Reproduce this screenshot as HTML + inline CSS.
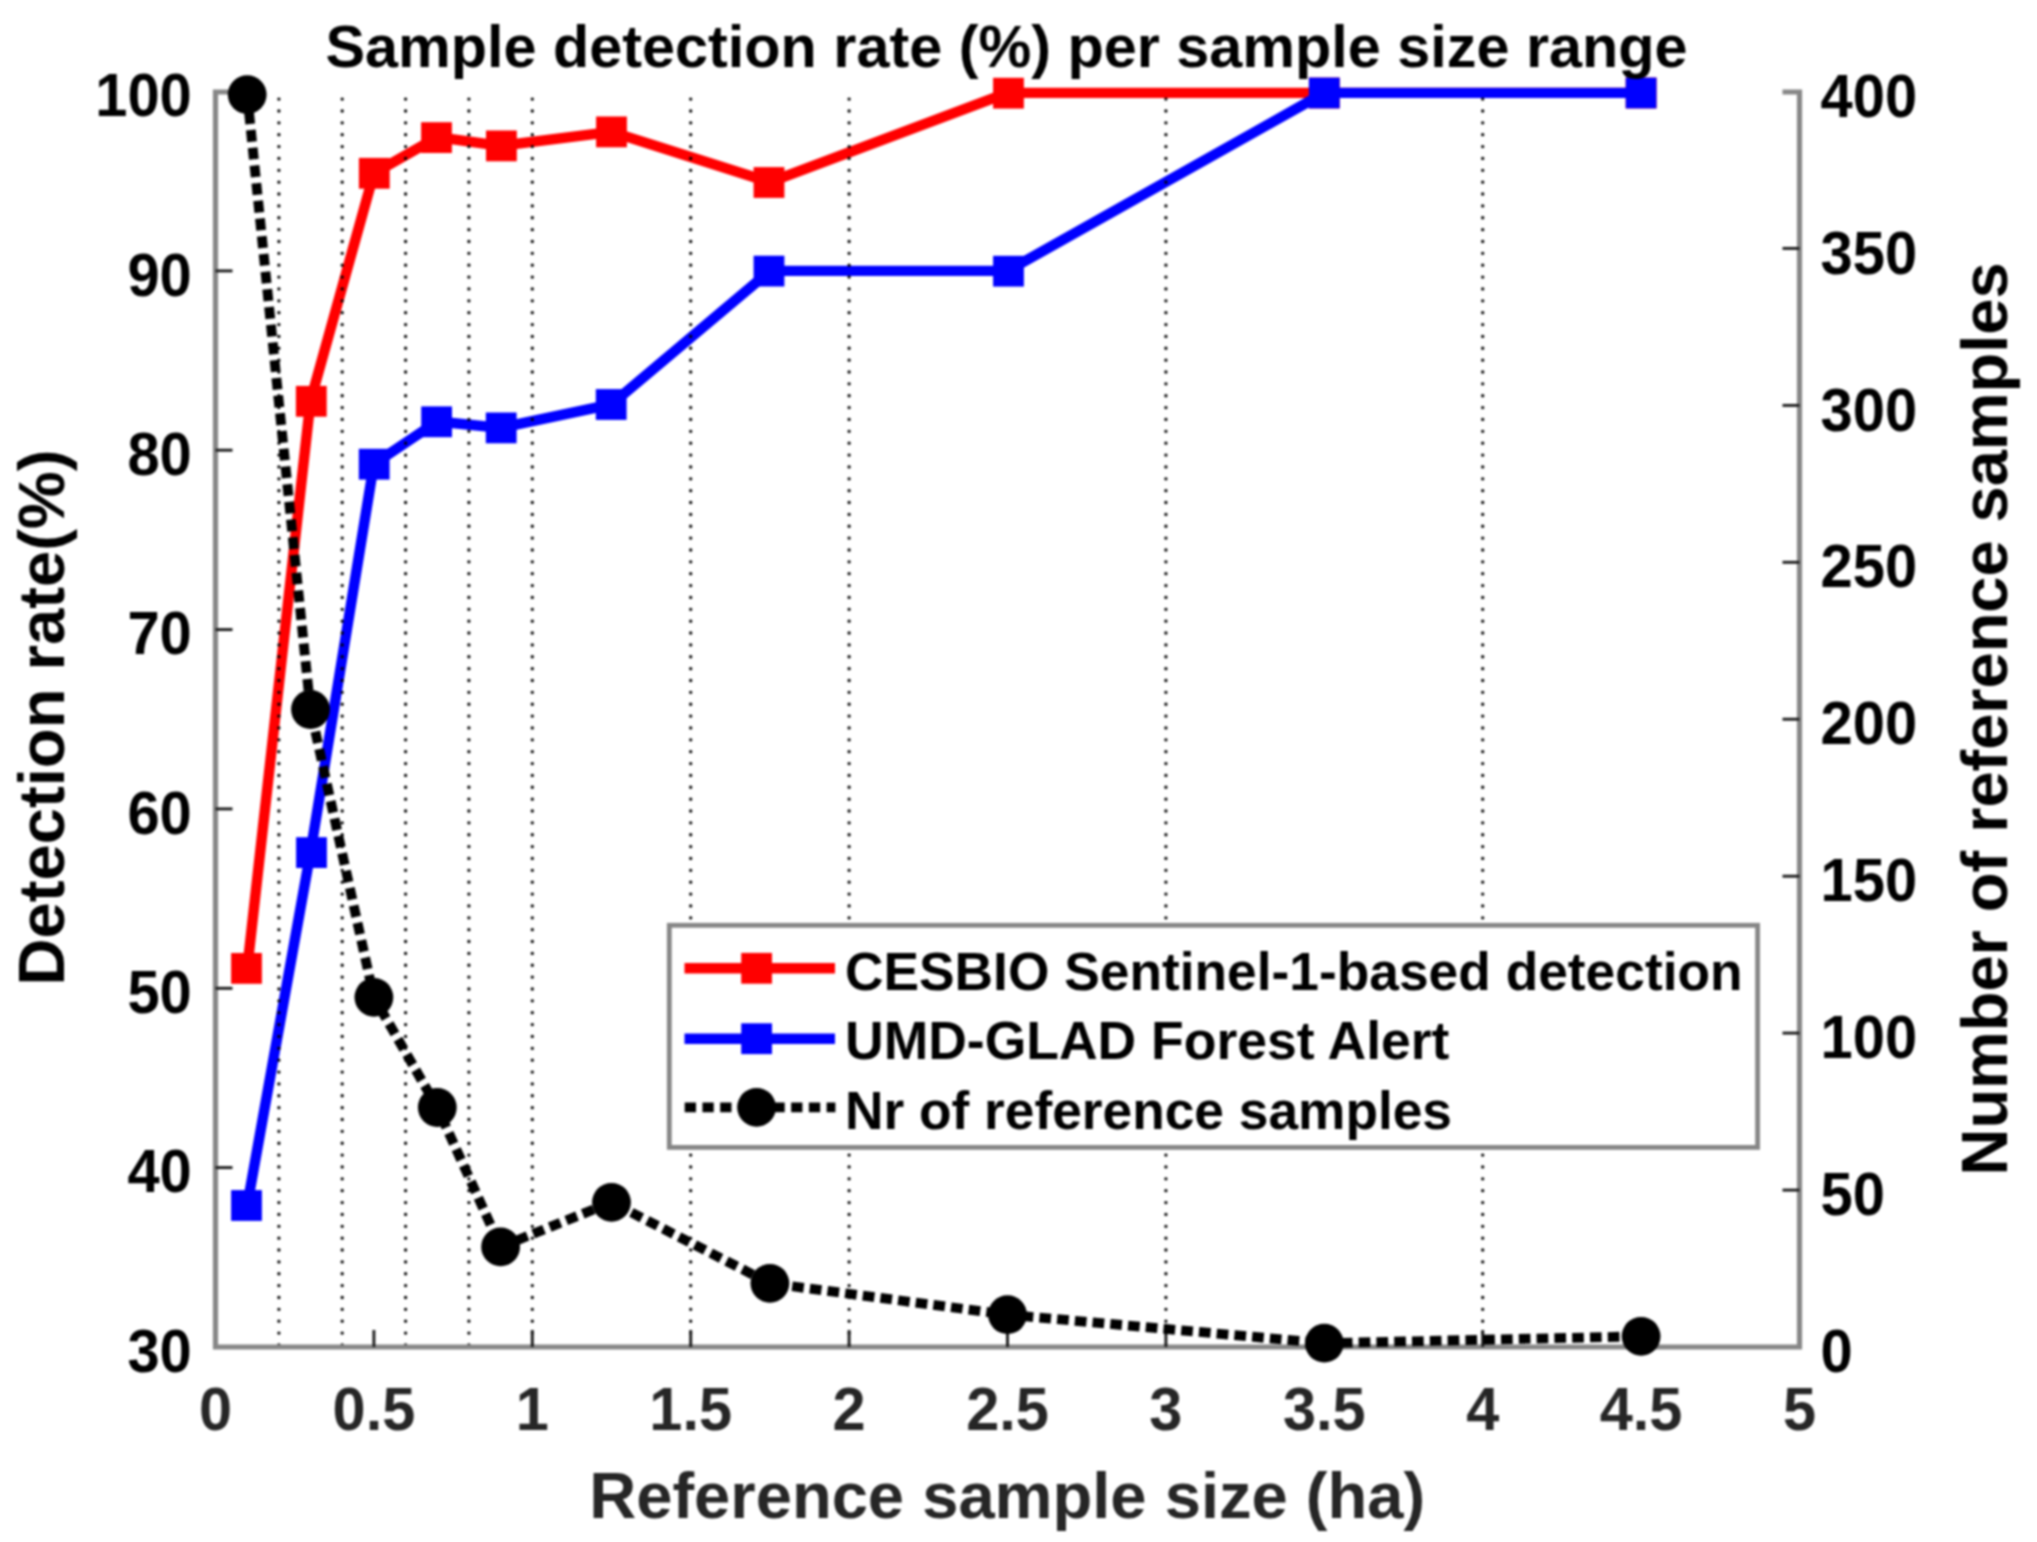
<!DOCTYPE html>
<html lang="en"><head><meta charset="utf-8"><title>Sample detection rate (%) per sample size range</title>
<style>
html,body{margin:0;padding:0;background:#fff;}
body{width:2037px;height:1542px;overflow:hidden;}
svg{display:block;}
</style></head><body>
<svg width="2037" height="1542" viewBox="0 0 2037 1542">
<rect width="2037" height="1542" fill="#fff"/>
<defs><filter id="soft" x="0" y="0" width="100%" height="100%" filterUnits="userSpaceOnUse" color-interpolation-filters="sRGB"><feGaussianBlur stdDeviation="0.8"/></filter></defs>
<g filter="url(#soft)">
<rect width="2037" height="1542" fill="#fff"/>
<polyline points="247.2,968.6 310.5,400.9 373.9,173.3 437.3,137.2 500.6,145.8 611.5,131.9 769.9,182.1 1007.5,92.9 1324.3,92.9 1641.1,92.9" fill="none" stroke="#ff0000" stroke-width="10.4" stroke-linejoin="round"/>
<rect x="231.1" y="953.0" width="30.8" height="30.8" fill="#ff0000"/>
<rect x="295.9" y="385.9" width="30.8" height="30.8" fill="#ff0000"/>
<rect x="358.9" y="157.9" width="30.8" height="30.8" fill="#ff0000"/>
<rect x="421.1" y="122.2" width="30.8" height="30.8" fill="#ff0000"/>
<rect x="486.0" y="130.5" width="30.8" height="30.8" fill="#ff0000"/>
<rect x="596.1" y="116.5" width="30.8" height="30.8" fill="#ff0000"/>
<rect x="753.6" y="167.1" width="30.8" height="30.8" fill="#ff0000"/>
<rect x="993.1" y="77.8" width="30.8" height="30.8" fill="#ff0000"/>
<rect x="1308.9" y="77.6" width="30.8" height="30.8" fill="#ff0000"/>
<rect x="1625.7" y="77.6" width="30.8" height="30.8" fill="#ff0000"/>
<polyline points="247.2,1205.3 310.5,852.3 373.9,464.0 437.3,421.5 500.6,427.8 611.5,404.3 769.9,270.9 1007.5,270.9 1324.3,92.9 1641.1,92.9" fill="none" stroke="#0000ff" stroke-width="10.4" stroke-linejoin="round"/>
<rect x="231.1" y="1190.1" width="30.8" height="30.8" fill="#0000ff"/>
<rect x="296.1" y="837.2" width="30.8" height="30.8" fill="#0000ff"/>
<rect x="358.8" y="448.8" width="30.8" height="30.8" fill="#0000ff"/>
<rect x="421.2" y="406.4" width="30.8" height="30.8" fill="#0000ff"/>
<rect x="485.8" y="412.5" width="30.8" height="30.8" fill="#0000ff"/>
<rect x="595.8" y="389.1" width="30.8" height="30.8" fill="#0000ff"/>
<rect x="753.6" y="255.7" width="30.8" height="30.8" fill="#0000ff"/>
<rect x="993.1" y="255.8" width="30.8" height="30.8" fill="#0000ff"/>
<rect x="1308.9" y="77.6" width="30.8" height="30.8" fill="#0000ff"/>
<rect x="1625.7" y="77.6" width="30.8" height="30.8" fill="#0000ff"/>
<line x1="278.9" y1="99.1" x2="278.9" y2="1349.0" stroke="#000" stroke-width="3.3" stroke-linecap="round" stroke-dasharray="0.01 11.855"/>
<line x1="342.2" y1="99.1" x2="342.2" y2="1349.0" stroke="#000" stroke-width="3.3" stroke-linecap="round" stroke-dasharray="0.01 11.855"/>
<line x1="405.6" y1="99.1" x2="405.6" y2="1349.0" stroke="#000" stroke-width="3.3" stroke-linecap="round" stroke-dasharray="0.01 11.855"/>
<line x1="468.9" y1="99.1" x2="468.9" y2="1349.0" stroke="#000" stroke-width="3.3" stroke-linecap="round" stroke-dasharray="0.01 11.855"/>
<line x1="532.3" y1="99.1" x2="532.3" y2="1349.0" stroke="#000" stroke-width="3.3" stroke-linecap="round" stroke-dasharray="0.01 11.855"/>
<line x1="690.7" y1="99.1" x2="690.7" y2="1349.0" stroke="#000" stroke-width="3.3" stroke-linecap="round" stroke-dasharray="0.01 11.855"/>
<line x1="849.1" y1="99.1" x2="849.1" y2="1349.0" stroke="#000" stroke-width="3.3" stroke-linecap="round" stroke-dasharray="0.01 11.855"/>
<line x1="1165.9" y1="99.1" x2="1165.9" y2="1349.0" stroke="#000" stroke-width="3.3" stroke-linecap="round" stroke-dasharray="0.01 11.855"/>
<line x1="1482.7" y1="99.1" x2="1482.7" y2="1349.0" stroke="#000" stroke-width="3.3" stroke-linecap="round" stroke-dasharray="0.01 11.855"/>
<path d="M232.5 92.0 H215.5 V1347.0 H1799.5 V92.0 H1782.5" fill="none" stroke="#878787" stroke-width="5.2" stroke-linejoin="miter"/>
<line x1="215.5" y1="1167.6" x2="232.5" y2="1167.6" stroke="#1c1c1c" stroke-width="2.9"/>
<line x1="215.5" y1="988.3" x2="232.5" y2="988.3" stroke="#1c1c1c" stroke-width="2.9"/>
<line x1="215.5" y1="808.9" x2="232.5" y2="808.9" stroke="#1c1c1c" stroke-width="2.9"/>
<line x1="215.5" y1="629.6" x2="232.5" y2="629.6" stroke="#1c1c1c" stroke-width="2.9"/>
<line x1="215.5" y1="450.2" x2="232.5" y2="450.2" stroke="#1c1c1c" stroke-width="2.9"/>
<line x1="215.5" y1="270.9" x2="232.5" y2="270.9" stroke="#1c1c1c" stroke-width="2.9"/>
<line x1="1799.5" y1="1190.1" x2="1782.5" y2="1190.1" stroke="#1c1c1c" stroke-width="2.9"/>
<line x1="1799.5" y1="1033.1" x2="1782.5" y2="1033.1" stroke="#1c1c1c" stroke-width="2.9"/>
<line x1="1799.5" y1="876.2" x2="1782.5" y2="876.2" stroke="#1c1c1c" stroke-width="2.9"/>
<line x1="1799.5" y1="719.2" x2="1782.5" y2="719.2" stroke="#1c1c1c" stroke-width="2.9"/>
<line x1="1799.5" y1="562.3" x2="1782.5" y2="562.3" stroke="#1c1c1c" stroke-width="2.9"/>
<line x1="1799.5" y1="405.4" x2="1782.5" y2="405.4" stroke="#1c1c1c" stroke-width="2.9"/>
<line x1="1799.5" y1="248.4" x2="1782.5" y2="248.4" stroke="#1c1c1c" stroke-width="2.9"/>
<line x1="373.9" y1="1347.0" x2="373.9" y2="1330.0" stroke="#1c1c1c" stroke-width="2.9"/>
<line x1="532.3" y1="1347.0" x2="532.3" y2="1330.0" stroke="#1c1c1c" stroke-width="2.9"/>
<line x1="690.7" y1="1347.0" x2="690.7" y2="1330.0" stroke="#1c1c1c" stroke-width="2.9"/>
<line x1="849.1" y1="1347.0" x2="849.1" y2="1330.0" stroke="#1c1c1c" stroke-width="2.9"/>
<line x1="1007.5" y1="1347.0" x2="1007.5" y2="1330.0" stroke="#1c1c1c" stroke-width="2.9"/>
<line x1="1165.9" y1="1347.0" x2="1165.9" y2="1330.0" stroke="#1c1c1c" stroke-width="2.9"/>
<line x1="1324.3" y1="1347.0" x2="1324.3" y2="1330.0" stroke="#1c1c1c" stroke-width="2.9"/>
<line x1="1482.7" y1="1347.0" x2="1482.7" y2="1330.0" stroke="#1c1c1c" stroke-width="2.9"/>
<line x1="1641.1" y1="1347.0" x2="1641.1" y2="1330.0" stroke="#1c1c1c" stroke-width="2.9"/>
<polyline points="247.2,94.6 310.5,709.5 373.9,997.3 437.3,1107.5 500.6,1246.9 611.5,1202.3 769.9,1283.3 1007.5,1314.7 1324.3,1343.2 1641.1,1336.3" fill="none" stroke="#000" stroke-width="9.8" stroke-dasharray="11.7 6.1"/>
<circle cx="247.2" cy="94.6" r="19.4" fill="#000"/>
<circle cx="310.5" cy="709.5" r="19.4" fill="#000"/>
<circle cx="373.9" cy="997.3" r="19.4" fill="#000"/>
<circle cx="437.3" cy="1107.5" r="19.4" fill="#000"/>
<circle cx="500.6" cy="1246.9" r="19.4" fill="#000"/>
<circle cx="611.5" cy="1202.3" r="19.4" fill="#000"/>
<circle cx="769.9" cy="1283.3" r="19.4" fill="#000"/>
<circle cx="1007.5" cy="1314.7" r="19.4" fill="#000"/>
<circle cx="1324.3" cy="1343.2" r="19.4" fill="#000"/>
<circle cx="1641.1" cy="1336.3" r="19.4" fill="#000"/>
<rect x="669.3" y="925.3" width="1088.3" height="222.1" fill="#fff" stroke="#868686" stroke-width="4.8"/>
<line x1="684.5" y1="968.3" x2="835" y2="968.3" stroke="#f00" stroke-width="10.4"/>
<rect x="741.2" y="952.9" width="30.8" height="30.8" fill="#f00"/>
<line x1="684.5" y1="1038.7" x2="835" y2="1038.7" stroke="#00f" stroke-width="10.4"/>
<rect x="741.2" y="1023.3000000000001" width="30.8" height="30.8" fill="#00f"/>
<line x1="684.7" y1="1107.3" x2="835.4" y2="1107.3" stroke="#000" stroke-width="9.8" stroke-dasharray="11.3 6.44"/>
<circle cx="756.6" cy="1107.3" r="19.4" fill="#000"/>
<text x="845" y="989.8" font-family="'Liberation Sans', Arial, Helvetica, sans-serif" font-weight="bold" font-size="53.5" fill="#000" textLength="897.6" lengthAdjust="spacingAndGlyphs">CESBIO Sentinel-1-based detection</text>
<text x="845" y="1058.6" font-family="'Liberation Sans', Arial, Helvetica, sans-serif" font-weight="bold" font-size="53.5" fill="#000" textLength="604.4" lengthAdjust="spacingAndGlyphs">UMD-GLAD Forest Alert</text>
<text x="845" y="1129.4" font-family="'Liberation Sans', Arial, Helvetica, sans-serif" font-weight="bold" font-size="53.5" fill="#000" textLength="607" lengthAdjust="spacingAndGlyphs">Nr of reference samples</text>
<text x="191.8" y="1371.7" font-family="'Liberation Sans', Arial, Helvetica, sans-serif" font-weight="bold" font-size="61.1" fill="#000" text-anchor="end" textLength="64.4" lengthAdjust="spacingAndGlyphs">30</text>
<text x="191.8" y="1192.3" font-family="'Liberation Sans', Arial, Helvetica, sans-serif" font-weight="bold" font-size="61.1" fill="#000" text-anchor="end" textLength="64.4" lengthAdjust="spacingAndGlyphs">40</text>
<text x="191.8" y="1013.0" font-family="'Liberation Sans', Arial, Helvetica, sans-serif" font-weight="bold" font-size="61.1" fill="#000" text-anchor="end" textLength="64.4" lengthAdjust="spacingAndGlyphs">50</text>
<text x="191.8" y="833.6" font-family="'Liberation Sans', Arial, Helvetica, sans-serif" font-weight="bold" font-size="61.1" fill="#000" text-anchor="end" textLength="64.4" lengthAdjust="spacingAndGlyphs">60</text>
<text x="191.8" y="654.3" font-family="'Liberation Sans', Arial, Helvetica, sans-serif" font-weight="bold" font-size="61.1" fill="#000" text-anchor="end" textLength="64.4" lengthAdjust="spacingAndGlyphs">70</text>
<text x="191.8" y="474.9" font-family="'Liberation Sans', Arial, Helvetica, sans-serif" font-weight="bold" font-size="61.1" fill="#000" text-anchor="end" textLength="64.4" lengthAdjust="spacingAndGlyphs">80</text>
<text x="191.8" y="295.6" font-family="'Liberation Sans', Arial, Helvetica, sans-serif" font-weight="bold" font-size="61.1" fill="#000" text-anchor="end" textLength="64.4" lengthAdjust="spacingAndGlyphs">90</text>
<text x="191.8" y="116.2" font-family="'Liberation Sans', Arial, Helvetica, sans-serif" font-weight="bold" font-size="61.1" fill="#000" text-anchor="end" textLength="96.6" lengthAdjust="spacingAndGlyphs">100</text>
<text x="1820.5" y="1372.1" font-family="'Liberation Sans', Arial, Helvetica, sans-serif" font-weight="bold" font-size="61.1" fill="#000" textLength="32.2" lengthAdjust="spacingAndGlyphs">0</text>
<text x="1820.5" y="1215.2" font-family="'Liberation Sans', Arial, Helvetica, sans-serif" font-weight="bold" font-size="61.1" fill="#000" textLength="64.4" lengthAdjust="spacingAndGlyphs">50</text>
<text x="1820.5" y="1058.2" font-family="'Liberation Sans', Arial, Helvetica, sans-serif" font-weight="bold" font-size="61.1" fill="#000" textLength="96.6" lengthAdjust="spacingAndGlyphs">100</text>
<text x="1820.5" y="901.3" font-family="'Liberation Sans', Arial, Helvetica, sans-serif" font-weight="bold" font-size="61.1" fill="#000" textLength="96.6" lengthAdjust="spacingAndGlyphs">150</text>
<text x="1820.5" y="744.4" font-family="'Liberation Sans', Arial, Helvetica, sans-serif" font-weight="bold" font-size="61.1" fill="#000" textLength="96.6" lengthAdjust="spacingAndGlyphs">200</text>
<text x="1820.5" y="587.4" font-family="'Liberation Sans', Arial, Helvetica, sans-serif" font-weight="bold" font-size="61.1" fill="#000" textLength="96.6" lengthAdjust="spacingAndGlyphs">250</text>
<text x="1820.5" y="430.5" font-family="'Liberation Sans', Arial, Helvetica, sans-serif" font-weight="bold" font-size="61.1" fill="#000" textLength="96.6" lengthAdjust="spacingAndGlyphs">300</text>
<text x="1820.5" y="273.5" font-family="'Liberation Sans', Arial, Helvetica, sans-serif" font-weight="bold" font-size="61.1" fill="#000" textLength="96.6" lengthAdjust="spacingAndGlyphs">350</text>
<text x="1820.5" y="116.6" font-family="'Liberation Sans', Arial, Helvetica, sans-serif" font-weight="bold" font-size="61.1" fill="#000" textLength="96.6" lengthAdjust="spacingAndGlyphs">400</text>
<text x="215.5" y="1429.9" font-family="'Liberation Sans', Arial, Helvetica, sans-serif" font-weight="bold" font-size="60.2" fill="#262626" text-anchor="middle" textLength="33.1" lengthAdjust="spacingAndGlyphs">0</text>
<text x="373.9" y="1429.9" font-family="'Liberation Sans', Arial, Helvetica, sans-serif" font-weight="bold" font-size="60.2" fill="#262626" text-anchor="middle" textLength="82.7" lengthAdjust="spacingAndGlyphs">0.5</text>
<text x="532.3" y="1429.9" font-family="'Liberation Sans', Arial, Helvetica, sans-serif" font-weight="bold" font-size="60.2" fill="#262626" text-anchor="middle" textLength="33.1" lengthAdjust="spacingAndGlyphs">1</text>
<text x="690.7" y="1429.9" font-family="'Liberation Sans', Arial, Helvetica, sans-serif" font-weight="bold" font-size="60.2" fill="#262626" text-anchor="middle" textLength="82.7" lengthAdjust="spacingAndGlyphs">1.5</text>
<text x="849.1" y="1429.9" font-family="'Liberation Sans', Arial, Helvetica, sans-serif" font-weight="bold" font-size="60.2" fill="#262626" text-anchor="middle" textLength="33.1" lengthAdjust="spacingAndGlyphs">2</text>
<text x="1007.5" y="1429.9" font-family="'Liberation Sans', Arial, Helvetica, sans-serif" font-weight="bold" font-size="60.2" fill="#262626" text-anchor="middle" textLength="82.7" lengthAdjust="spacingAndGlyphs">2.5</text>
<text x="1165.9" y="1429.9" font-family="'Liberation Sans', Arial, Helvetica, sans-serif" font-weight="bold" font-size="60.2" fill="#262626" text-anchor="middle" textLength="33.1" lengthAdjust="spacingAndGlyphs">3</text>
<text x="1324.3" y="1429.9" font-family="'Liberation Sans', Arial, Helvetica, sans-serif" font-weight="bold" font-size="60.2" fill="#262626" text-anchor="middle" textLength="82.7" lengthAdjust="spacingAndGlyphs">3.5</text>
<text x="1482.7" y="1429.9" font-family="'Liberation Sans', Arial, Helvetica, sans-serif" font-weight="bold" font-size="60.2" fill="#262626" text-anchor="middle" textLength="33.1" lengthAdjust="spacingAndGlyphs">4</text>
<text x="1641.1" y="1429.9" font-family="'Liberation Sans', Arial, Helvetica, sans-serif" font-weight="bold" font-size="60.2" fill="#262626" text-anchor="middle" textLength="82.7" lengthAdjust="spacingAndGlyphs">4.5</text>
<text x="1799.5" y="1429.9" font-family="'Liberation Sans', Arial, Helvetica, sans-serif" font-weight="bold" font-size="60.2" fill="#262626" text-anchor="middle" textLength="33.1" lengthAdjust="spacingAndGlyphs">5</text>
<text x="1006.5" y="67" font-family="'Liberation Sans', Arial, Helvetica, sans-serif" font-weight="bold" font-size="59" fill="#000" text-anchor="middle" textLength="1362" lengthAdjust="spacingAndGlyphs">Sample detection rate (%) per sample size range</text>
<text x="1007.2" y="1517.5" font-family="'Liberation Sans', Arial, Helvetica, sans-serif" font-weight="bold" font-size="65" fill="#262626" text-anchor="middle" textLength="836" lengthAdjust="spacingAndGlyphs">Reference sample size (ha)</text>
<text transform="translate(64.3 717.5) rotate(-90)" font-family="'Liberation Sans', Arial, Helvetica, sans-serif" font-weight="bold" font-size="65" fill="#000" text-anchor="middle" textLength="536" lengthAdjust="spacingAndGlyphs">Detection rate(%)</text>
<text transform="translate(2007 719) rotate(-90)" font-family="'Liberation Sans', Arial, Helvetica, sans-serif" font-weight="bold" font-size="65" fill="#000" text-anchor="middle" textLength="913" lengthAdjust="spacingAndGlyphs">Number of reference samples</text>
</g>
</svg>
</body></html>
